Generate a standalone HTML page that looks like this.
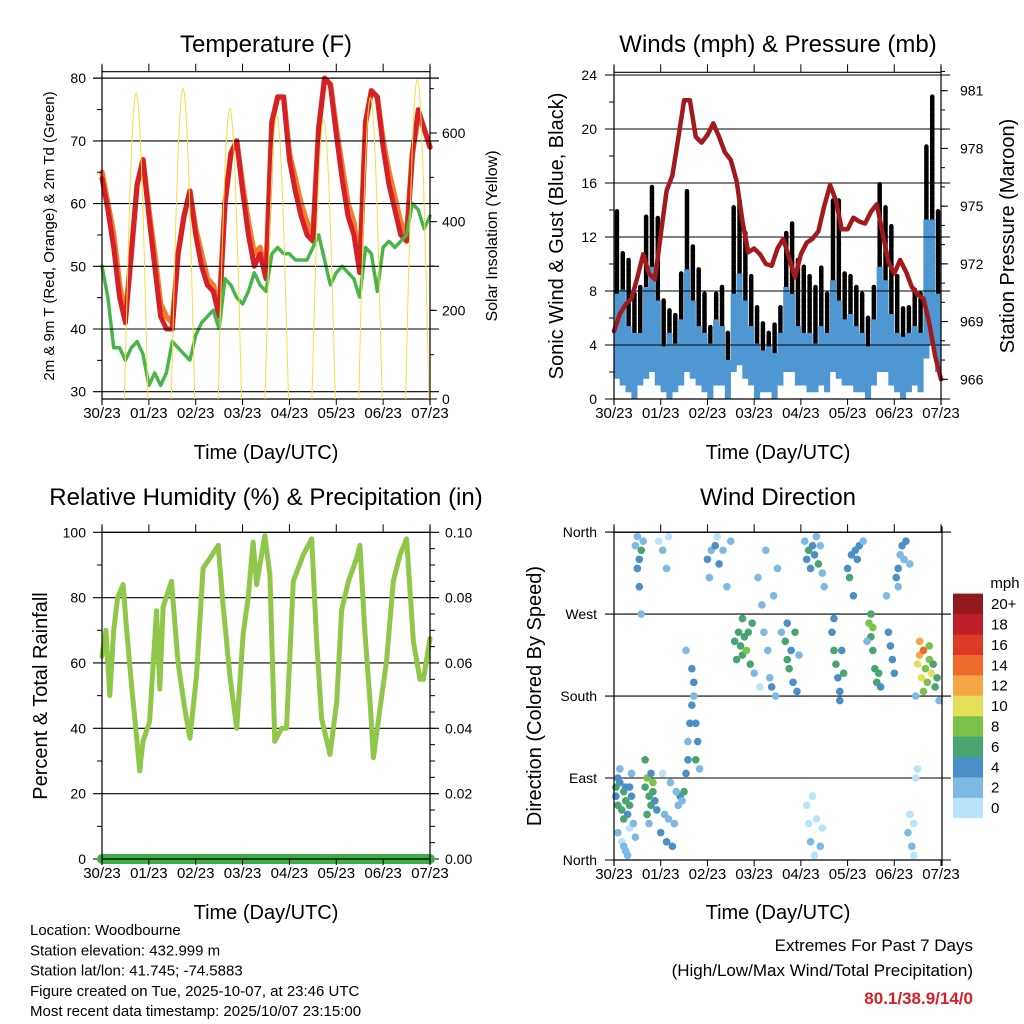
<!DOCTYPE html>
<html><head><meta charset="utf-8"><style>
html,body{margin:0;padding:0;background:#fff;}
svg{display:block;font-family:"Liberation Sans",Arial,sans-serif;}
</style></head><body>
<svg id="c" width="1024" height="1024" viewBox="0 0 1024 1024" xmlns="http://www.w3.org/2000/svg"></svg>
<script>
// ---------- DATA ----------
const dayLabels = ["30/23","01/23","02/23","03/23","04/23","05/23","06/23","07/23"];
const hours3 = [0,3,6,9,12,15,18,21,24,27,30,33,36,39,42,45,48,51,54,57,60,63,66,69,72,75,78,81,84,87,90,93,96,99,102,105,108,111,114,117,120,123,126,129,132,135,138,141,144,147,150,153,156,159,162,165,168];
const temp2m = [64,59,53,45,41,52,63,67,58,50,42,40,40,52,58,62,55,50,47,46,42,60,68,70,62,55,50,52,48,73,77,77,67,62,58,55,54,72,80,79,71,64,58,55,49,73,78,77,69,63,59,55,54,68,75,72,69];
const temp9m = [65,60,55,47,42,52,63,67,59,52,44,42,41,52,58,62,56,52,48,47,43,60,68,70,63,57,52,53,49,73,77,77,68,64,60,57,55,72,80,79,72,66,60,57,50,73,78,77,70,65,61,57,55,68,74,72,69];
const dewpt = [50,45,37,37,35,37,38,36,31,33,31,33,38,37,36,35,39,41,42,43,40,48,47,45,44,46,49,47,46,52,53,52,52,51,51,51,53,55,51,47,49,50,49,48,45,53,52,46,53,54,53,54,55,60,59,56,58];
const solarPeaks = [690,700,655,640,630,680,720];
const gustHi = [14,10.8,10.3,7.8,8.3,13.5,15.7,13.5,7.3,6.6,6.3,9.3,15.4,11.3,9.6,7.8,5.4,7.8,8.3,4.9,14.2,14.7,12.3,9.1,6.8,5.6,4.9,5.6,6.8,12.3,13,10.3,9.8,9.1,8.3,9.8,7.8,14.7,14.7,9.3,9.1,8.3,7.8,6.1,8.3,16,14.2,12.8,9.1,6.8,6.8,8.1,7.8,18.7,22.4,14];
const windHi = [7.8,8.1,5.4,4.9,4.9,8.3,9.8,7.3,3.9,4.9,4.1,5.9,9.6,7.3,5.4,4.9,4.1,5.9,5.4,2.9,7.8,9.3,7.3,5.4,4.1,3.6,3.9,3.4,4.9,8.3,7.8,5.4,4.9,4.9,4.1,5.4,4.9,8.8,7.3,5.9,6.3,5.4,4.9,3.9,5.9,9.8,8.8,6.3,4.9,4.6,4.9,5.4,4.9,13.3,13.3,7.8];
const windLo = [1.5,1,0.5,0,1,1.5,2,1,0.5,0,0.5,1,2,1.5,1,0.5,0,1,1,0,2,2.5,1.5,1,0,0.5,0.5,0,1,2,2,1,1,0.5,0.5,1,0.5,2,1.5,1,1,0.5,0.5,0,1,2,2,1,0.5,0,0.5,1,0.5,3,4,2];
const presHours = hours3;
const pressure = [968.5,969.4,969.9,970.2,971.3,972.5,971.5,971.2,973.5,975.8,976.6,978.5,980.5,980.5,978.6,978.3,978.7,979.3,978.6,977.8,977.4,976.3,974.2,972.6,972.8,972.5,972.0,971.9,972.8,973.3,972.3,971.3,972.5,973.1,973.3,973.7,975.0,976.1,975.3,973.8,973.8,974.4,974.2,974.1,974.7,975.1,973.6,972.1,971.5,972.2,971.6,970.8,970.4,970.2,968.9,967.2,966];
const rhHours = [0,2,4,6,8,10.8,12.5,15,17.6,19.3,21,24.4,27.9,29.6,31.3,33.9,35.6,39,42.4,45,48.4,51.8,55.2,59.5,62,65.5,69,72.3,74.9,77.4,79.2,83.4,86,88.5,92,94.5,98,103,107.4,110,112.5,116.8,120.2,122.7,126.2,130.4,132.1,134.7,137.3,139,142.4,145.8,149.2,152.6,156,159.5,162.9,164.6,168];
const rhVals = [62,70,50,70,80,84,71,54,38,27,36,42,76,52,77,82,85,60,46,37,56,89,92,96,78,56,40,69,80,97,84,99,87,36,40,40,85,93,98,66,43,32,48,76,85,92,96,69,48,31,46,61,85,93,98,66.5,55,55,67.5];
const precipTotal = 0;
const dirHour = [1,2,3,4,5,6,7,8,9,2,5,8,3,6,1,9, 2,4,6,8,10,7,5,11, 11,12,13,14,15,13,14,12, 16,17,18,19,20,17,19,21,18,16,20,22, 24,26,27,28,30,31,33,34,32,29,25,35, 23,25,27,28, 36,37,38,38,39,40,41,42,43,42,40,37,41,44, 48,50,52,54,56,49,53,58,60, 62,64,65,66,67,68,70,71,63,69,72,66, 74,76,77,78,79,80,82,84,83,86,81,75, 88,89,90,91,92,93,94,89,95, 98,99,100,101,102,103,104,105,106,107,108, 112,113,114,115,116,117,118,113,116, 120,121,122,124,126,128,123,125, 131,132,133,134,135,136,137,133,130,132, 141,142,143,144,140, 145,146,147,148,150,149,152,146, 156,157,158,159,160,161,162,163,164,165,157,159,162,166,155,167, 99,100,101,102,104,106,107,103, 151,152,153,154,155,156,154];
const dirDeg = [70,60,85,55,75,65,50,80,95,90,45,60,100,80,80,70, 30,20,10,35,40,5,15,25, 345,355,330,340,350,300,270,320, 80,90,70,60,85,50,95,65,40,110,75,55, 30,50,20,45,15,40,60,70,75,85,95,65, 350,340,320,355, 75,95,110,130,150,170,195,150,130,110,210,230,180,100, 330,340,345,325,340,310,355,300,350, 240,250,235,225,245,230,215,260,220,250,205,265, 310,280,250,340,230,200,290,320,180,250,190,190, 240,220,210,230,195,250,185,260,225, 350,330,340,320,345,335,355,325,345,315,300, 250,230,215,200,185,230,205,265,175, 320,310,335,340,345,350,290,330, 260,245,230,210,195,205,190,255,240,270, 250,235,220,205,290, 310,320,335,345,350,330,325,300, 215,225,200,230,210,195,220,205,215,190,240,185,235,200,180,175, 60,40,20,70,45,15,35,5, 30,50,15,5,90,100,40];
const dirSpd = [5,6,4,7,6,7,5,4,3,5,6,6,3,5,6,4, 2,1,2,1,2,3,2,3, 3,2,4,6,3,4,3,5, 7,8,7,6,9,6,5,4,3,6,7,4, 4,3,4,3,4,3,3,4,3,2,1,2, 1,3,2,1, 7,4,4,3,4,4,4,4,4,6,4,3,3,2, 4,3,4,4,3,2,1,2,3, 7,7,7,6,7,8,6,6,6,7,3,6, 2,3,2,2,3,2,2,3,2,2,4,1, 6,7,6,5,4,7,4,5,2, 2,4,6,5,4,4,3,6,3,2,2, 5,6,6,4,4,5,6,5,4, 5,6,4,4,4,3,4,4, 8,7,6,6,7,6,5,9,2,7, 4,4,4,4,3, 4,4,3,4,4,3,2,2, 10,12,11,14,9,8,8,10,7,6,12,9,8,7,3,3, 1,1,2,1,1,2,1,1, 3,1,3,1,1,1,1];
const spdColors = ["#b8e3f8","#7db9e3","#4a8fc6","#48a56f","#7bc14a","#e6df5a","#f6a643","#ee6a2c","#dc3a27","#bf1f28","#921a1b"];
const spdLabels = ["0","2","4","6","8","10","12","14","16","18","20+"];

// ---------- HELPERS ----------
const NS="http://www.w3.org/2000/svg";
const svg=document.getElementById('c');
function mk(tag, attrs, parent){const e=document.createElementNS(NS,tag);for(const k in attrs)e.setAttribute(k,attrs[k]);(parent||svg).appendChild(e);return e;}
function txt(s,x,y,size,anchor,parent,extra){const e=mk('text',Object.assign({x:x,y:y,'font-size':size,'text-anchor':anchor||'start',fill:'#000'},extra||{}),parent);e.textContent=s;return e;}
function grp(name){const g=mk('g',{});return g;}

const xL=h=>102+h*328/168;
const xR=h=>614+h*327/168;
const yT=t=>391.7-(t-30)*6.27;
const ySol=w=>399-w*0.4433;
const yW=v=>399-v*13.5;
const yP=p=>379.3-(p-966)*19.24;
const yRH=r=>859-r*3.267;
const yD=d=>860-d*0.911;

function xAxis(g,xf,x0,x1,yTop,yBot){
  mk('line',{x1:x0,y1:yTop,x2:x1,y2:yTop,stroke:'#000','stroke-width':1.2},g);
  mk('line',{x1:x0,y1:yBot,x2:x1,y2:yBot,stroke:'#000','stroke-width':1.2},g);
  mk('line',{x1:x0,y1:yTop-6,x2:x0,y2:yBot+6,stroke:'#000','stroke-width':1.2},g);
  mk('line',{x1:x1,y1:yTop-6,x2:x1,y2:yBot+6,stroke:'#000','stroke-width':1.2},g);
  for(let i=0;i<dayLabels.length;i++){
    const x=xf(i*24);
    mk('line',{x1:x,y1:yTop,x2:x,y2:yTop-8,stroke:'#000','stroke-width':1},g);
    mk('line',{x1:x,y1:yBot,x2:x,y2:yBot+6,stroke:'#000','stroke-width':1},g);
    const t=txt(dayLabels[i],x,yBot+19,15,'middle',g);
    
    
  }
}
function hgrid(g,ys,x0,x1){for(const y of ys){mk('line',{x1:x0-9,y1:y,x2:x1+9,y2:y,stroke:'#000','stroke-width':1.1},g);}}
function vtitle(s,x,y,size,g,name){const t=txt(s,x,y,size,'middle',g,{transform:`rotate(-90 ${x} ${y})`});return t;}
function title(s,x,y,size,name){const t=txt(s,x,y,size,'middle');}
function poly(xs,ys,g,attrs){return mk('polyline',Object.assign({points:xs.map((x,i)=>x.toFixed(1)+','+ys[i].toFixed(1)).join(' '),fill:'none','stroke-linejoin':'round','stroke-linecap':'round'},attrs),g);}

// ---------- PANEL 1 ----------
(function(){
  const g=grp('temperature-panel');
  title('Temperature (F)',266,52,24,'temperature-title');
  const sg=grp('solar-series');
  for(let d=0;d<solarPeaks.length;d++){
    const rise=11.5+24*d, set=23.5+24*d, pts=[];
    for(let k=0;k<=40;k++){const h=rise+(set-rise)*k/40; if(h>168)break; pts.push(xL(h).toFixed(1)+','+ySol(solarPeaks[d]*Math.sin(Math.PI*k/40)).toFixed(1));}
    const p=mk('polyline',{points:pts.join(' '),fill:'none',stroke:'#f7dc45','stroke-width':1},sg);
    
    
  }
  const xs=hours3.map(xL);
  const o=poly(xs,temp9m.map(yT),g,{stroke:'#f47b2a','stroke-width':5.5});
  
  const r=poly(xs,temp2m.map(yT),g,{stroke:'#d42026','stroke-width':5});
  
  const d=poly(xs,dewpt.map(yT),g,{stroke:'#47b549','stroke-width':3.5,'stroke-dasharray':'2 1.5'});
  
  const tv=[30,40,50,60,70,80];
  hgrid(g,tv.map(yT),102,430);
  for(const v of tv){txt(String(v),86,yT(v)+5,14,'end',g);}
  for(let v=35;v<=75;v+=10){mk('line',{x1:102,y1:yT(v),x2:97,y2:yT(v),stroke:'#000'},g);}
  for(const w of [0,200,400,600]){txt(String(w),442,ySol(w)+5,14,'start',g);mk('line',{x1:430,y1:ySol(w),x2:437,y2:ySol(w),stroke:'#000'},g);}
  for(let w=100;w<=700;w+=100){mk('line',{x1:430,y1:ySol(w),x2:434,y2:ySol(w),stroke:'#000'},g);}
  xAxis(g,xL,102,430,71.7,399);
  mk('line',{x1:93,y1:78,x2:439,y2:78,stroke:'#000','stroke-width':1.1},g);
  vtitle('2m & 9m T (Red, Orange) & 2m Td (Green)',54,236,15,g,'temperature-y-title');
  vtitle('Solar Insolation (Yellow)',497,236,16,g,'solar-y-title');
  const t=txt('Time (Day/UTC)',266,459,20,'middle',g);
})();

// ---------- PANEL 2 ----------
(function(){
  const g=grp('winds-panel');
  title('Winds (mph) & Pressure (mb)',778,52,24,'winds-title');
  const bw=327/168*3;
  for(let i=0;i<gustHi.length;i++){
    const x=xR(hours3[i]+1.5);
    const b=mk('line',{x1:x,y1:yW(windHi[i]),x2:x,y2:yW(gustHi[i]),stroke:'#000','stroke-width':4.5,'stroke-linecap':'round','stroke-dasharray':'4.5 1.5'},g);
    
  }
  for(let i=0;i<windHi.length;i++){
    const x=xR(hours3[i]+1.5);
    const b=mk('line',{x1:x,y1:yW(windLo[i]),x2:x,y2:yW(windHi[i]),stroke:'#4f97d2','stroke-width':bw+0.3},g);
    
  }
  const wv=[0,4,8,12,16,20,24];
  hgrid(g,wv.map(yW),614,941);
  const p=poly(presHours.map(xR),pressure.map(yP),g,{stroke:'#a11b1e','stroke-width':4.5});
  
  for(const v of wv){txt(String(v),597,yW(v)+5,14,'end',g);}
  for(let v=2;v<24;v+=4){mk('line',{x1:614,y1:yW(v),x2:609,y2:yW(v),stroke:'#000'},g);}
  for(let v=966;v<=981;v+=3){txt(String(v),960,yP(v)+5,14,'start',g);mk('line',{x1:941,y1:yP(v),x2:948,y2:yP(v),stroke:'#000'},g);}
  for(let v=966;v<=982;v++){mk('line',{x1:941,y1:yP(v),x2:945,y2:yP(v),stroke:'#000'},g);}
  xAxis(g,xR,614,941,72.3,399);
  mk('line',{x1:605,y1:75,x2:950,y2:75,stroke:'#000','stroke-width':1.1},g);
  vtitle('Sonic Wind & Gust (Blue, Black)',563,236,20,g,'wind-y-title');
  vtitle('Station Pressure (Maroon)',1014,236,20,g,'pressure-y-title');
  const t=txt('Time (Day/UTC)',778,459,20,'middle',g);
})();

// ---------- PANEL 3 ----------
(function(){
  const g=grp('humidity-panel');
  title('Relative Humidity (%) & Precipitation (in)',266,505,24,'humidity-title');
  const rv=[0,20,40,60,80,100];
  hgrid(g,rv.map(yRH),102,430);
  const r=poly(rhHours.map(xL),rhVals.map(yRH),g,{stroke:'#8fc74a','stroke-width':5});
  
  const pb=mk('line',{x1:xL(0),y1:yRH(precipTotal*1000),x2:xL(168),y2:yRH(precipTotal*1000),stroke:'#3fae49','stroke-width':10,'stroke-linecap':'round'},g);
  
  for(const v of rv){txt(String(v),86,yRH(v)+5,14,'end',g);txt((v/1000).toFixed(2),445,yRH(v)+5,14,'start',g);}
  for(let v=10;v<100;v+=20){mk('line',{x1:102,y1:yRH(v),x2:97,y2:yRH(v),stroke:'#000'},g);}
  for(let v=5;v<100;v+=5){mk('line',{x1:430,y1:yRH(v),x2:435,y2:yRH(v),stroke:'#000'},g);}
  xAxis(g,xL,102,430,532.3,859);
  vtitle('Percent & Total Rainfall',47,696,20,g,'humidity-y-title');
  const t=txt('Time (Day/UTC)',266,919,20,'middle',g);
})();

// ---------- PANEL 4 ----------
(function(){
  const g=grp('wind-direction-panel');
  title('Wind Direction',778,505,24,'wind-direction-title');
  const dv=[0,90,180,270,360], dn=['North','East','South','West','North'];
  hgrid(g,dv.map(yD),614,942);
  for(let i=0;i<dirHour.length;i++){
    const ci=Math.min(10,Math.floor(dirSpd[i]/2));
    const c=mk('circle',{cx:xR(dirHour[i]),cy:yD(dirDeg[i]),r:3.8,fill:spdColors[ci]},g);
    
    
  }
  for(let i=0;i<dv.length;i++){txt(dn[i],597,yD(dv[i])+5,14,'end',g);}
  xAxis(g,xR,614,942,532.3,860);
  vtitle('Direction (Colored By Speed)',541,696,20,g,'direction-y-title');
  const t=txt('Time (Day/UTC)',778,919,20,'middle',g);
  const cb=grp('speed-colorbar');
  txt('mph',1005,588,15,'middle',cb);
  for(let i=0;i<spdColors.length;i++){
    const y=818-(i+1)*20.4;
    const rr=mk('rect',{x:953,y:y,width:30,height:20.6,fill:spdColors[i]},cb);
    
    txt(spdLabels[i],991,y+15.5,15,'start',cb);
  }
})();

// ---------- FOOTER ----------
(function(){
  const g=grp('station-info');
  const lines=['Location: Woodbourne','Station elevation: 432.999 m','Station lat/lon: 41.745; -74.5883','Figure created on Tue, 2025-10-07, at 23:46 UTC','Most recent data timestamp: 2025/10/07 23:15:00'];
  lines.forEach((s,i)=>txt(s,30,935+i*20.3,15,'start',g));
  const e=grp('extremes-info');
  txt('Extremes For Past 7 Days',973,951,17,'end',e);
  txt('(High/Low/Max Wind/Total Precipitation)',973,976,17,'end',e);
  txt('80.1/38.9/14/0',973,1004,17,'end',e,{fill:'#d42026','font-weight':'bold'});
})();
</script>
</body></html>
